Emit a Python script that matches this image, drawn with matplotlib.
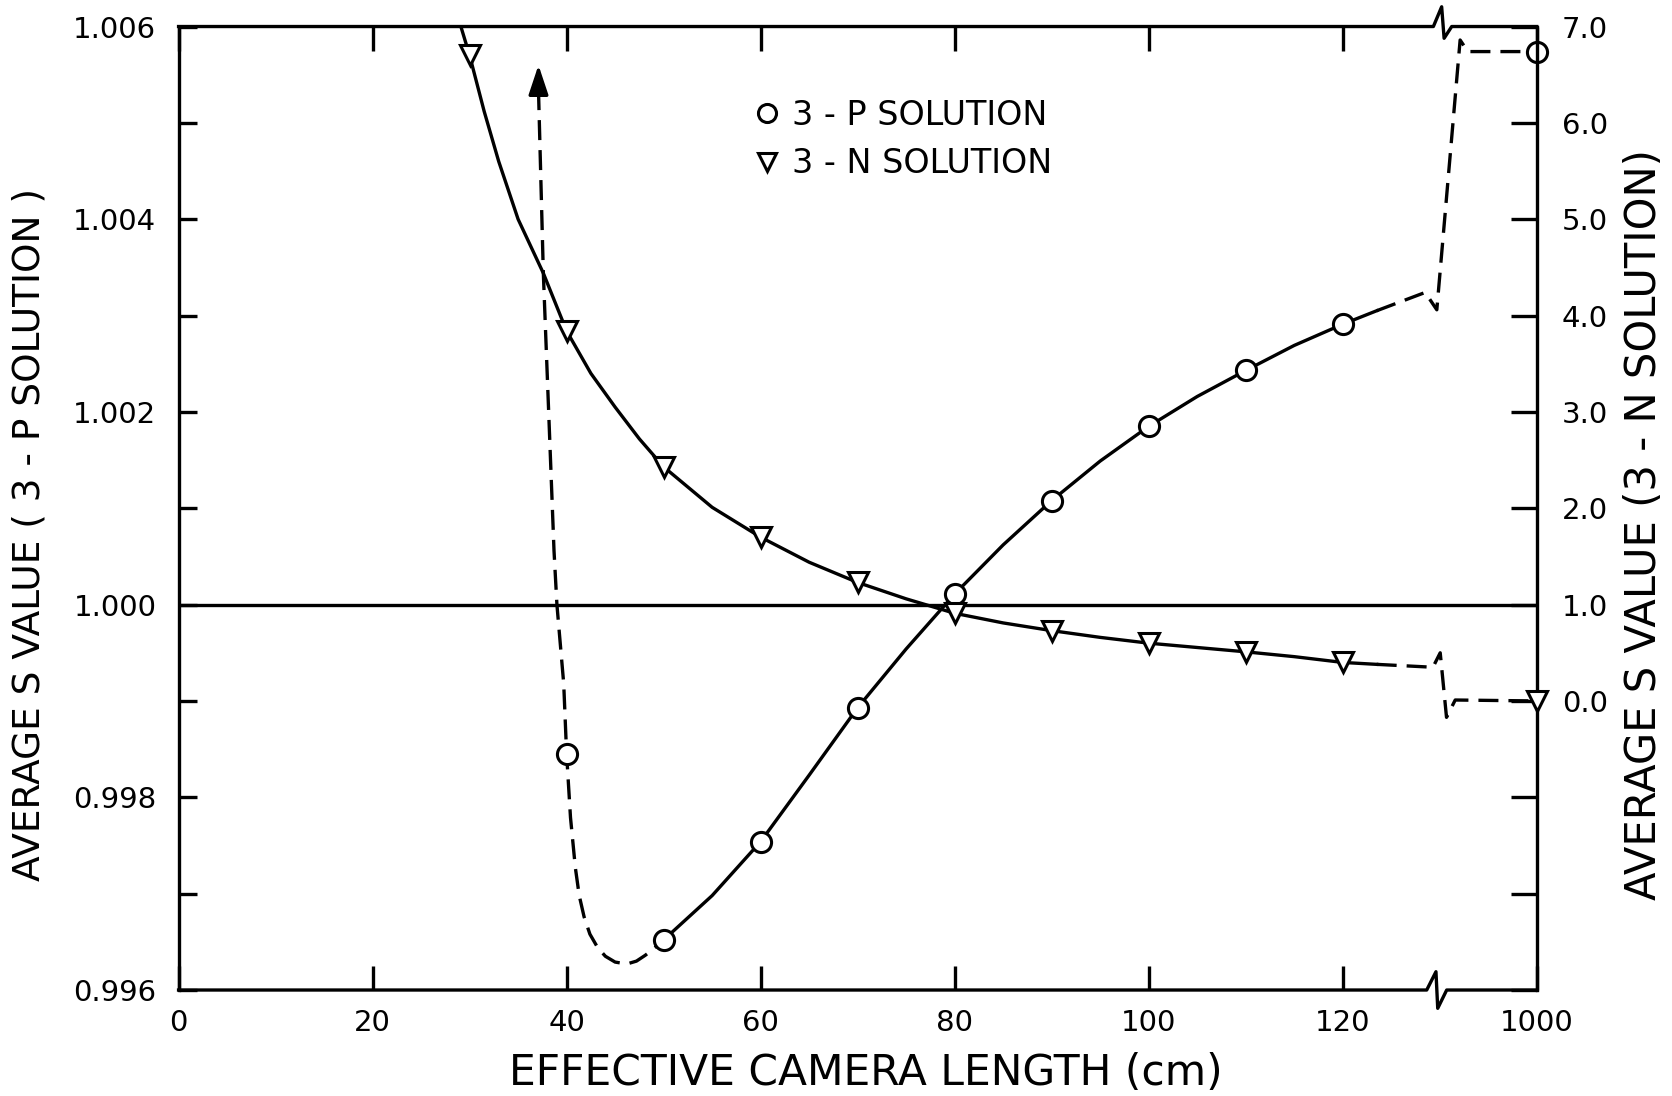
import numpy as np
import matplotlib
matplotlib.use('agg')
import matplotlib.pyplot as plt
from matplotlib.lines import Line2D

plt.rcParams['font.family'] = 'DejaVu Sans'

# camera length ticks (cm); the axis is broken between 130 and 1000
length_ticks = [0, 20, 40, 60, 80, 100, 120, 1000]

# measured points, 3-P solution (left axis)
p_len = [40, 50, 60, 70, 80, 90, 100, 110, 120, 1000]
p_s = [0.99845, 0.99652, 0.99754, 0.99893, 1.00011, 1.00108, 1.00185, 1.00243, 1.00291, 1.00574]

# measured points, 3-N solution (right axis)
n_len = [30, 40, 50, 60, 70, 80, 90, 100, 110, 120, 1000]
n_s = [6.70, 3.84, 2.43, 1.70, 1.23, 0.91, 0.73, 0.60, 0.51, 0.40, 0.0]

# hand drawn curves
p_solid_x = [50, 55, 60, 65, 70, 75, 80, 85, 90, 95, 100, 105, 110, 115, 120, 123.5]
p_solid_y = [0.99652, 0.99698, 0.99754, 0.99823, 0.99893, 0.99954, 1.00011, 1.00062,
             1.00108, 1.00149, 1.00185, 1.00216, 1.00243, 1.00269, 1.00291, 1.00305]
p_left_x = [37.1, 37.6, 38.7, 39.0, 39.7, 40.0, 40.4, 40.9, 41.3, 41.8, 42.4, 43.2,
            44.0, 45.0, 46.2, 47.2, 48.1, 49.0, 50.0]
p_left_y = [1.00534, 1.00344, 1.00056, 1.0000, 0.99918, 0.99845, 0.99779, 0.99727,
            0.99698, 0.99676, 0.99658, 0.99644, 0.99635, 0.99629, 0.99627, 0.99630,
            0.99636, 0.99643, 0.99652]
p_arrow_x, p_arrow_y = 37.1, 1.0056
p_right_x = [123.5, 128.5, 129.7, 313, 382, 1000]
p_right_y = [1.00305, 1.00324, 1.00306, 1.00586, 1.00574, 1.00574]

n_solid_x = [29.1, 30, 31.5, 33, 35, 37.6, 40, 42.5, 45, 47.5, 50, 55, 60, 65, 70, 75,
             80, 85, 90, 95, 100, 105, 110, 115, 120, 123.5]
n_solid_y = [7.0, 6.70, 6.12, 5.6, 5.0, 4.44, 3.84, 3.40, 3.05, 2.72, 2.43, 2.01, 1.70,
             1.44, 1.23, 1.06, 0.91, 0.81, 0.73, 0.66, 0.60, 0.555, 0.51, 0.46, 0.40, 0.38]
n_right_x = [123.5, 129.3, 134.4, 190.9, 269, 1000]
n_right_y = [0.38, 0.35, 0.50, -0.17, 0.01, 0.0]


def fwd(x):
    x = np.asarray(x, dtype=float)
    return np.where(x <= 130, x, 130 + (x - 130) / 87.0)


def inv(x):
    x = np.asarray(x, dtype=float)
    return np.where(x <= 130, x, 130 + (x - 130) * 87.0)


lw = 2.4
dash = (0, (6, 3))

fig = plt.figure(figsize=(16.72, 10.96), dpi=100)
ax = fig.add_axes([0.1068, 0.0967, 0.8123, 0.8791])
ax.set_xscale('function', functions=(fwd, inv))
ax.set_xlim(0, 1000)
ax.set_ylim(0.996, 1.006)
ax2 = ax.twinx()
ax2.set_ylim(-3, 7)

ax.axhline(1.0, color='k', lw=lw)
ax.plot(p_solid_x, p_solid_y, color='k', lw=lw)
ax.plot(p_left_x, p_left_y, color='k', lw=lw, ls=dash)
ax.plot(p_right_x, p_right_y, color='k', lw=lw, ls=dash)
ax.annotate('', xy=(p_arrow_x, p_arrow_y), xytext=(p_left_x[0], p_left_y[0]),
            arrowprops=dict(arrowstyle='-|>,head_length=1.8,head_width=0.6',
                            color='k', lw=lw, shrinkA=0, shrinkB=0))
ax.plot(p_len, p_s, ls='none', marker='o', ms=14.5, mfc='white', mec='k', mew=2.2,
        zorder=4, clip_on=False)

ax2.plot(n_solid_x, n_solid_y, color='k', lw=lw)
ax2.plot(n_right_x, n_right_y, color='k', lw=lw, ls=dash)
ax2.plot(n_len, n_s, ls='none', marker='v', ms=14.5, mfc='white', mec='k', mew=2.2,
         zorder=4, clip_on=False)

# ticks
ax.set_xticks(length_ticks)
ax.set_xticklabels([str(v) for v in length_ticks])
ax.tick_params(axis='x', direction='in', length=17, width=lw, top=True, bottom=True,
               labelsize=21, pad=14)
s_ticks = np.round(np.arange(0.996, 1.0065, 0.001), 3)
ax.set_yticks(s_ticks)
ax.set_yticklabels(['%.3f' % v if i % 2 == 0 else '' for i, v in enumerate(s_ticks)])
ax.tick_params(axis='y', direction='in', length=13, width=lw, labelsize=21, pad=16)
n_ticks = list(range(-3, 8))
ax2.set_yticks(n_ticks)
ax2.set_yticklabels(['%.1f' % v if v >= 0 else '' for v in n_ticks])
ax2.tick_params(axis='y', direction='in', length=19, width=lw, labelsize=21, pad=18)

# frame with break marks at 130
for a in (ax, ax2):
    a.spines['top'].set_visible(False)
    a.spines['bottom'].set_visible(False)
ax.spines['right'].set_visible(False)
ax2.spines['left'].set_visible(False)
ax.spines['left'].set_linewidth(lw)
ax2.spines['right'].set_linewidth(lw)
ax.plot([0, 0.9239, 0.9300, 0.9318, 0.9374, 1], [1, 1, 1.0205, 0.9878, 1, 1],
        transform=ax.transAxes, clip_on=False, color='k', lw=lw)
ax.plot([0, 0.9190, 0.9258, 0.9271, 0.9337, 1], [0, 0, 0.019, -0.019, 0, 0],
        transform=ax.transAxes, clip_on=False, color='k', lw=lw)

h1 = Line2D([], [], ls='none', marker='o', ms=13, mfc='white', mec='k', mew=2.2)
h2 = Line2D([], [], ls='none', marker='v', ms=13, mfc='white', mec='k', mew=2.2)
ax2.legend([h1, h2], ['3 - P SOLUTION', '3 - N SOLUTION'], loc='upper left',
           bbox_to_anchor=(0.4486, 0.9100), bbox_transform=fig.transFigure,
           frameon=False, fontsize=24, handlelength=1.0, handletextpad=0.25,
           labelspacing=0.47, borderpad=0, borderaxespad=0)

fig.text(0.518, 0.010, 'EFFECTIVE CAMERA LENGTH (cm)', ha='center', va='baseline',
         fontsize=30.5)
fig.text(0.0179, 0.512, 'AVERAGE S VALUE ( 3 - P SOLUTION )', rotation=90,
         ha='center', va='center', fontsize=27)
fig.text(0.9833, 0.521, 'AVERAGE S VALUE (3 - N SOLUTION)', rotation=90,
         ha='center', va='center', fontsize=30)

fig.savefig('out.png', dpi=100)
